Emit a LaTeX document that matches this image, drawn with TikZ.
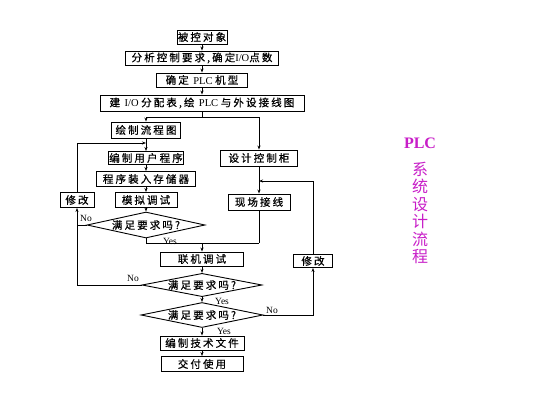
\documentclass[tikz,border=0pt]{standalone}
\usepackage{fontspec}
\setmainfont{Liberation Serif}
\newfontfamily\cjk[LetterSpace=20,FakeBold=0.6]{Noto Sans CJK SC}
\newfontfamily\cjkb{Noto Sans CJK SC}
\usetikzlibrary{shapes.geometric,arrows.meta}
\definecolor{plcmag}{RGB}{200,30,200}
\begin{document}
\begin{tikzpicture}[x=1pt,y=-1pt,
 box/.style={draw, line width=0.9pt, inner sep=0pt, font=\fontsize{10.5}{12}\selectfont},
 dia/.style={draw, diamond, aspect=5, inner sep=0pt, line width=0.9pt, font=\fontsize{10.5}{12}\selectfont},
 arr/.style={-{Stealth[length=4pt,width=3pt]}, line width=0.7pt},
 ln/.style={line width=0.7pt},
 lbl/.style={font=\fontsize{9.5}{10}\selectfont, inner sep=0pt}]
\fill[white] (0,0) rectangle (533,400);
% main column
\node[box, minimum width=50, minimum height=14] (n1) at (202,37) {\cjk 被控对象};
\node[box, minimum width=153, minimum height=14] (n2) at (202,58) {\cjk 分析控制要求,确定\rmfamily I/O\cjk 点数};
\node[box, minimum width=91, minimum height=14] (n3) at (202,80) {\cjk 确定 \rmfamily PLC \cjk 机型};
\node[box, minimum width=204, minimum height=16] (n4) at (202,103) {\cjk 建 \rmfamily I/O \cjk 分配表,绘 \rmfamily PLC \cjk 与外设接线图};
% left branch
\node[box, minimum width=69, minimum height=16] (n5) at (146,130) {\cjk 绘制流程图};
\node[box, minimum width=75, minimum height=13] (n6) at (146,158) {\cjk 编制用户程序};
\node[box, minimum width=99, minimum height=15] (n7) at (146,179) {\cjk 程序装入存储器};
\node[box, minimum width=34, minimum height=15] (n8) at (77,200) {\cjk 修改};
\node[box, minimum width=62, minimum height=15] (n9) at (146,200) {\cjk 模拟调试};
\node[dia, minimum width=118, minimum height=26] (d1) at (146,225) {\cjk 满足要求吗?};
% right branch
\node[box, minimum width=77, minimum height=16] (n10) at (259,158) {\cjk 设计控制柜};
\node[box, minimum width=62, minimum height=16] (n11) at (259,202) {\cjk 现场接线};
\node[box, minimum width=39, minimum height=13] (n13) at (313,261) {\cjk 修改};
% lower column
\node[box, minimum width=83, minimum height=14] (n12) at (202,259) {\cjk 联机调试};
\node[dia, minimum width=120, minimum height=22] (d2) at (202,285) {\cjk 满足要求吗?};
\node[dia, minimum width=122, minimum height=25] (d3) at (202,315) {\cjk 满足要求吗?};
\node[box, minimum width=84, minimum height=14] (n14) at (202,343) {\cjk 编制技术文件};
\node[box, minimum width=82, minimum height=15] (n15) at (202,364) {\cjk 交付使用};
% coordinates
\coordinate (j1) at (202,117);
\coordinate (j1L) at (146,117);
\coordinate (j1R) at (259,117);
\coordinate (lp) at (146,143);
\coordinate (rp) at (259,181);
\coordinate (ybL) at (146,243);
\coordinate (ybM) at (202,243);
\coordinate (ybR) at (259,243);
% connectors
\draw[arr] (n1) -- (n2);
\draw[arr] (n2) -- (n3);
\draw[arr] (n3) -- (n4);
\draw[ln] (n4.south) -- (j1);
\draw[ln] (j1L) -- (j1R);
\draw[arr] (j1L) -- (n5);
\draw[arr] (j1R) -- (n10);
\draw[arr] (n5) -- (n6);
\draw[arr] (n6) -- (n7);
\draw[arr] (n7) -- (n9);
\draw[arr] (n9) -- (d1);
\draw[arr] (n10) -- (n11);
\draw[ln] (d1.south) -- (ybL) -- (ybR);
\draw[ln] (n11.south) -- (ybR);
\draw[arr] (ybM) -- (n12);
\draw[arr] (n12) -- (d2);
\draw[arr] (d2) -- (d3);
\draw[arr] (d3) -- (n14);
\draw[arr] (n14) -- (n15);
% loops
\draw[ln] (d1.west) -- (d1.west -| n8);
\draw[arr] (d2.west) -| (n8.south);
\draw[arr] (n8.north) |- (lp);
\draw[arr] (d3.east) -| (n13.south);
\draw[arr] (n13.north) |- (rp);
% labels
\node[lbl] (l1) at (86,218) {No};
\node[lbl] (l2) at (170,241) {Yes};
\node[lbl] (l3) at (133,278) {No};
\node[lbl] (l4) at (222,301) {Yes};
\node[lbl] (l5) at (272,310) {No};
\node[lbl] (l6) at (224,331) {Yes};
% title
\node[font=\bfseries\fontsize{16}{16}\selectfont, text=plcmag] (title) at (420,143) {PLC};
\node[text=plcmag, font=\cjkb\fontsize{16}{17.5}\selectfont, align=center, inner sep=0pt] (sub) at (420,213) {系\\统\\设\\计\\流\\程};
\end{tikzpicture}
\end{document}
